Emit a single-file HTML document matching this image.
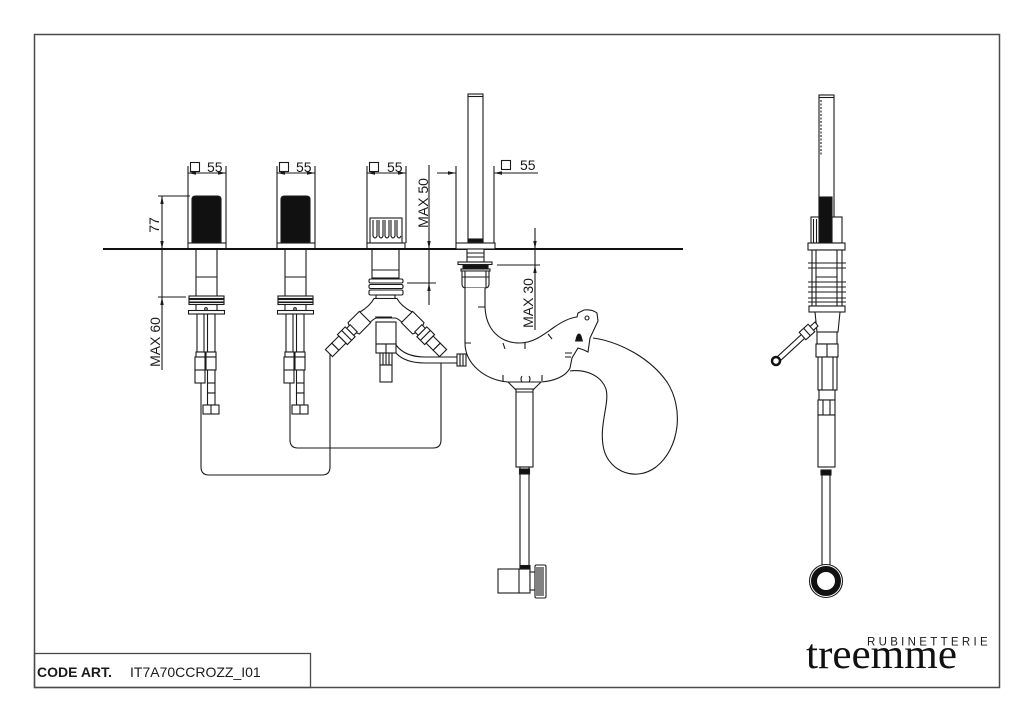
<!DOCTYPE html>
<html><head><meta charset="utf-8"><style>
html,body{margin:0;padding:0;background:#fff;}
svg{display:block;}
text{font-family:"Liberation Sans",Arial,sans-serif;fill:#1a1a1a;}
</style></head><body>
<svg width="1024" height="723" viewBox="0 0 1024 723" xmlns="http://www.w3.org/2000/svg">
<rect width="1024" height="723" fill="#fff"/>
<defs>
<g id="fx" fill="#fff" stroke="#1a1a1a" stroke-width="1.1">
 <line x1="188" y1="166" x2="188" y2="243"/>
 <line x1="226" y1="166" x2="226" y2="243"/>
 <line x1="188" y1="173" x2="226" y2="173"/>
 <polygon points="188,173 196,171.3 196,174.7" fill="#1a1a1a" stroke="none"/>
 <polygon points="226,173 218,171.3 218,174.7" fill="#1a1a1a" stroke="none"/>
 <rect x="190.5" y="162.5" width="9" height="9"/>
 <path d="M192,243 L192,199.5 Q192,196 195.5,196 L217.5,196 Q221,196 221,199.5 L221,243 Z" fill="#111"/>
 <rect x="188" y="243" width="38" height="6"/>
 <rect x="196" y="249" width="21" height="48"/>
 <line x1="196" y1="277" x2="217" y2="277"/>
 <rect x="189" y="296" width="35" height="2.5"/>
 <rect x="189" y="299.5" width="35" height="2.5"/>
 <rect x="189" y="302.5" width="35" height="2"/>
 <line x1="196" y1="304" x2="196" y2="311"/>
 <line x1="217" y1="304" x2="217" y2="311"/>
 <rect x="188.5" y="310.5" width="36" height="3.5"/>
 <circle cx="206" cy="309" r="1.3"/>
 <rect x="197" y="314" width="7" height="38"/>
 <rect x="207.5" y="314" width="7.5" height="38"/>
 <rect x="196" y="352" width="9" height="5"/>
 <rect x="195" y="357" width="10" height="26"/>
 <line x1="195" y1="370" x2="205" y2="370"/>
 <rect x="206" y="352" width="10" height="5"/>
 <rect x="206" y="357" width="10" height="13"/>
 <rect x="207.5" y="370" width="7.5" height="23"/>
 <line x1="207.5" y1="383" x2="215" y2="383"/>
 <rect x="207.5" y="393" width="7.5" height="12"/>
 <rect x="203" y="405" width="16" height="9"/>
 <line x1="211" y1="405" x2="211" y2="414"/>
</g>
<g id="arm" fill="#fff" stroke="#1a1a1a" stroke-width="1.1">
 <path d="M0,-8 L16,-8 Q20,0 16,8 L0,8 Z"/>
 <rect x="16" y="-5" width="5" height="10"/>
 <rect x="21" y="-7" width="11" height="14"/>
 <line x1="26" y1="-7" x2="26" y2="7"/>
 <rect x="32" y="-5" width="10" height="10"/>
 <rect x="42" y="-5" width="9" height="10"/>
</g>
</defs>

<!-- frame -->
<rect x="34.5" y="34.5" width="965" height="653" fill="none" stroke="#4a4a4a" stroke-width="1.5"/>
<rect x="34.5" y="653.5" width="276" height="34" fill="none" stroke="#4a4a4a" stroke-width="1.3"/>
<text x="37" y="677" font-size="14" font-weight="bold">CODE ART.</text>
<text x="130" y="677" font-size="14">IT7A70CCROZZ_I01</text>
<text x="867" y="645.5" font-size="11.5" letter-spacing="3.3">RUBINETTERIE</text>
<text x="806" y="668" font-size="42" textLength="151" lengthAdjust="spacingAndGlyphs" style="font-family:'Liberation Serif','Times New Roman',serif;fill:#111">treemme</text>

<!-- hoses -->
<g fill="none" stroke="#1a1a1a" stroke-width="1.1">
 <path d="M201,383 L201,467 Q201,475 209,475 L322,475 Q330,475 330,467 L330,350"/>
 <path d="M290,383 L290,440 Q290,448 298,448 L433,448 Q441,448 441,440 L441,363"/>
</g>

<!-- faucets 1 & 2 -->
<use href="#fx"/>
<use href="#fx" x="89"/>
<text x="207" y="172" font-size="14">55</text>
<text x="296" y="172" font-size="14">55</text>

<!-- dimension 77 / MAX 60 -->
<g stroke="#1a1a1a" stroke-width="1.1" fill="#1a1a1a">
 <line x1="162" y1="196" x2="162" y2="370"/>
 <line x1="158" y1="196" x2="190" y2="196"/>
 <line x1="158" y1="297" x2="186" y2="297"/>
 <polygon points="162,196 160.3,204 163.7,204" stroke="none"/>
 <polygon points="162,249 160.3,241 163.7,241" stroke="none"/>
 <polygon points="162,297 160.3,305 163.7,305" stroke="none"/>
</g>
<text transform="translate(159,225) rotate(-90)" text-anchor="middle" font-size="14">77</text>
<text transform="translate(160,342) rotate(-90)" text-anchor="middle" font-size="14">MAX 60</text>

<!-- faucet 3 (diverter) -->
<g fill="#fff" stroke="#1a1a1a" stroke-width="1.1">
 <line x1="367" y1="166" x2="367" y2="243"/>
 <line x1="406" y1="166" x2="406" y2="243"/>
 <line x1="367" y1="173" x2="406" y2="173"/>
 <polygon points="367,173 375,171.3 375,174.7" fill="#1a1a1a" stroke="none"/>
 <polygon points="406,173 398,171.3 398,174.7" fill="#1a1a1a" stroke="none"/>
 <rect x="369.5" y="162.5" width="9" height="9"/>
 <rect x="370" y="218" width="32" height="25"/>
 <path d="M373,220 L373,236 Q375,240 377,236 L377,220 M379,220 L379,236 Q381,240 383,236 L383,220 M385,220 L385,236 Q387,240 389,236 L389,220 M391,220 L391,236 Q393,240 395,236 L395,220 M397,220 L397,236 Q399,240 401,236" fill="none"/>
 <rect x="367" y="243" width="38" height="6"/>
 <rect x="372" y="249" width="27" height="29"/>
 <line x1="372" y1="270" x2="399" y2="270"/>
 <rect x="369" y="279" width="34" height="4" rx="1.5"/>
 <rect x="369" y="284.5" width="34" height="4" rx="1.5"/>
 <rect x="369" y="290" width="34" height="5" rx="1.5"/>
 <rect x="376" y="295" width="19" height="3.5"/>
 <path d="M374,298.5 Q370,306 360,312 L366,326 Q374,318 377,318 L395,318 Q398,318 406,326 L412,312 Q401,306 397,298.5 Z"/>
</g>
<use href="#arm" transform="translate(365,317) rotate(135)"/>
<use href="#arm" transform="translate(407,317) rotate(45)"/>
<g fill="#fff" stroke="#1a1a1a" stroke-width="1.1">
 <line x1="375" y1="317" x2="392" y2="317"/>
 <rect x="376" y="322" width="20" height="22"/>
 <rect x="376" y="344" width="20" height="9"/>
 <line x1="386" y1="344" x2="386" y2="353"/>
 <rect x="380" y="353" width="12" height="12"/>
 <path d="M383,353 L383,365 M386,353 L386,365 M389,353 L389,365" fill="none"/>
 <rect x="380" y="365" width="12" height="17"/>
 <path d="M396,345 Q405,357 425,357 L457,357" fill="none"/>
 <path d="M396,353 Q405,363 425,363 L457,363" fill="none"/>
 <rect x="457" y="354" width="9" height="12"/>
 <path d="M460,354 L460,366 M463,354 L463,366" fill="none"/>
</g>
<text x="387" y="172" font-size="14">55</text>

<!-- MAX 50 -->
<g stroke="#1a1a1a" stroke-width="1.1" fill="#1a1a1a">
 <line x1="429" y1="165" x2="429" y2="305"/>
 <line x1="407" y1="283" x2="436" y2="283"/>
 <polygon points="429,249 427.3,241 430.7,241" stroke="none"/>
 <polygon points="429,283 427.3,291 430.7,291" stroke="none"/>
</g>
<text transform="translate(428,203) rotate(-90)" text-anchor="middle" font-size="14">MAX 50</text>

<!-- countertop -->
<line x1="103" y1="249" x2="683" y2="249" stroke="#111" stroke-width="2"/>

<!-- hand shower front -->
<g fill="#fff" stroke="#1a1a1a" stroke-width="1.1">
 <line x1="456" y1="166" x2="456" y2="243"/>
 <line x1="494" y1="166" x2="494" y2="243"/>
 <line x1="437" y1="173" x2="456" y2="173"/>
 <line x1="494" y1="173" x2="538" y2="173"/>
 <polygon points="456,173 448,171.3 448,174.7" fill="#1a1a1a" stroke="none"/>
 <polygon points="494,173 502,171.3 502,174.7" fill="#1a1a1a" stroke="none"/>
 <rect x="501.5" y="160.5" width="9" height="9"/>
 <rect x="468" y="94" width="15" height="148"/>
 <line x1="468" y1="96.5" x2="483" y2="96.5"/>
 <rect x="468" y="239" width="15" height="3" fill="#111"/>
 <rect x="456" y="243" width="39" height="6"/>
 <rect x="467" y="249" width="17" height="13"/>
 <line x1="467" y1="253" x2="484" y2="253"/>
 <line x1="467" y1="257" x2="484" y2="257"/>
 <rect x="458" y="262" width="34" height="2.5"/>
 <rect x="463" y="265" width="25" height="4" fill="#111"/>
 <rect x="461" y="269" width="29" height="2"/>
 <path d="M462,271 L489,271 L489,284 Q489,288 485,288 L466,288 Q462,288 462,284 Z"/>
 <line x1="465" y1="271" x2="465" y2="288"/>
 <line x1="486" y1="271" x2="486" y2="288"/>
 <line x1="462" y1="277" x2="489" y2="277"/>
 <!-- bowl -->
 <path d="M465,288 L465,343 C465,364 485,380 508,382 L541,382 C555,381 566,376 570,368 L572,358 L578,348 L584,350 L588,352 L590,338 L598,321 L597,313 Q592,309 584,310 L578,313 L577,317 C568,318 560,323 553,328 C543,335 533,343 520,343 C500,343 486,330 485,307 L485,288"/>
 <circle cx="587" cy="318" r="2"/>
 <path d="M576,340 Q577,334 579,334 Q581,334 582,340 Z M575,341 L583,341" fill="#111"/>
 <path d="M478,307 L485,307 M465,343 L471,343 M503,343 L505,349 M525,343 L525,349 M548,334 L552,339 M565,353 L572,353 M565,357 L571,357 M503,375 L503,381 M542,375 L542,381 M522,376 Q520,379 522,382 M529,376 Q531,379 529,382" fill="none"/>
 <path d="M508,382 L516,390 M541,382 L533,390" fill="none"/>
 <!-- hose loop -->
 <path d="M593,338 C615,341 648,355 667,382 C684,408 680,448 656,467 C636,482 610,472 604,450 C598,426 610,404 606,389 C601,375 585,369 570,371" fill="none"/>
 <!-- lower body -->
 <rect x="516" y="389" width="17" height="78"/>
 <line x1="516" y1="392" x2="533" y2="392"/>
 <rect x="520" y="467" width="9" height="101"/>
 <rect x="519.5" y="469" width="10" height="5" fill="#111"/>
 <rect x="498" y="569" width="32" height="24"/>
 <line x1="519" y1="569" x2="519" y2="593"/>
 <rect x="520" y="565.5" width="10" height="3.5" fill="#111"/>
 <rect x="530" y="572" width="5" height="18"/>
 <rect x="535" y="565" width="11" height="33" rx="1.5"/>
 <path d="M537,567 L537,596 M539,567 L539,596 M541,567 L541,596 M543,567 L543,596" fill="none"/>
</g>
<text x="520" y="170" font-size="14">55</text>

<!-- MAX 30 -->
<g stroke="#1a1a1a" stroke-width="1.1" fill="#1a1a1a">
 <line x1="535" y1="228" x2="535" y2="330"/>
 <line x1="497" y1="265" x2="540" y2="265"/>
 <polygon points="535,249 533.3,241 536.7,241" stroke="none"/>
 <polygon points="535,265 533.3,273 536.7,273" stroke="none"/>
</g>
<text transform="translate(533,303) rotate(-90)" text-anchor="middle" font-size="14">MAX 30</text>

<!-- side view -->
<g fill="#fff" stroke="#1a1a1a" stroke-width="1.1">
 <rect x="819" y="95" width="15" height="150"/>
 <line x1="819" y1="97.5" x2="834" y2="97.5"/>
 <line x1="821" y1="100" x2="821" y2="156" stroke-dasharray="2,1.5"/>
 <rect x="819" y="197" width="13" height="48" fill="#111"/>
 <rect x="811" y="217" width="8" height="26"/>
 <path d="M813.5,219 L813.5,243 M816.5,219 L816.5,243 M836,219 L836,243 M839,219 L839,243" fill="none"/>
 <rect x="832" y="217" width="10" height="26"/>
 <rect x="808" y="243" width="37" height="7"/>
 <rect x="812" y="250" width="30" height="56"/>
 <line x1="816" y1="250" x2="816" y2="306"/>
 <line x1="837" y1="250" x2="837" y2="306"/>
 <line x1="816" y1="277" x2="837" y2="277"/>
 <path d="M808,263 L846,263 M808,268 L846,268 M808,282 L846,282 M808,287 L846,287 M808,292 L846,292 M808,298 L846,298 M808,302 L846,302" fill="none"/>
 <rect x="809" y="306" width="36" height="6"/>
 <path d="M815,312 L840,312 L838,332 L817,332 Z"/>
 <rect x="817" y="332" width="20" height="12"/>
 <rect x="816" y="344" width="22" height="13"/>
 <line x1="827" y1="344" x2="827" y2="357"/>
 <rect x="818" y="357" width="19" height="33"/>
 <line x1="822" y1="357" x2="822" y2="390"/>
 <line x1="833" y1="357" x2="833" y2="390"/>
 <rect x="819" y="390" width="16" height="10"/>
 <rect x="818" y="400" width="17" height="15"/>
 <path d="M823,400 L823,415 M830,400 L830,415" fill="none"/>
 <rect x="818" y="415" width="17" height="52"/>
 <rect x="821" y="470" width="10" height="5" fill="#111"/>
 <rect x="822" y="475" width="8" height="92"/>
 <circle cx="826" cy="581" r="16.5"/>
 <circle cx="826" cy="581" r="12" fill="none" stroke="#111" stroke-width="6"/>
 <!-- lever -->
 <path d="M815,322 L777,357 L780,361 L818,326 Z"/>
 <g transform="translate(807,332) rotate(-42)"><rect x="-6" y="-5" width="12" height="10"/><line x1="0" y1="-5" x2="0" y2="5"/></g>
 <circle cx="776" cy="361" r="4" fill="#fff" stroke="#111" stroke-width="2.5"/>
</g>
</svg>
</body></html>
